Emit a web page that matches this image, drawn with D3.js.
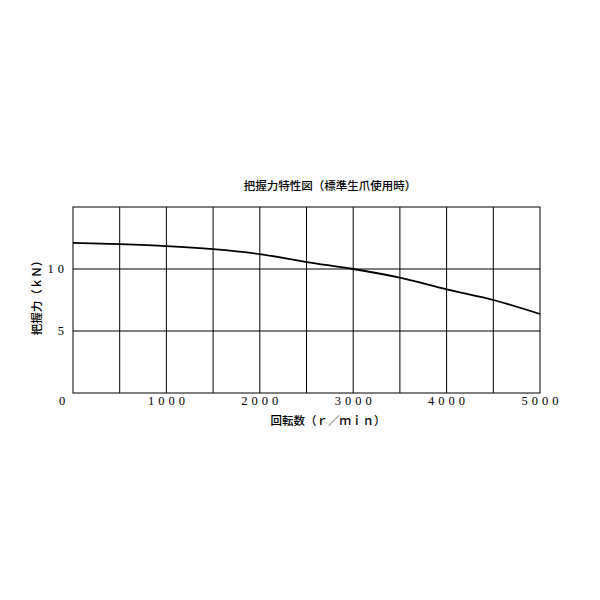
<!DOCTYPE html>
<html><head><meta charset="utf-8">
<script src="https://cdn.jsdelivr.net/npm/d3@7"></script>
<style>body{margin:0;background:#fff}</style>
</head><body><svg id="c" width="600" height="600"></svg>
<script>
const rpm = [0,500,1000,1500,2000,2500,3000,3500,4000,4500,5000];
const force = [12.1,12.0,11.85,11.6,11.2,10.56,10.0,9.3,8.36,7.5,6.37];
const xTicks = [1000,2000,3000,4000,5000];
const yTicks = [5,10];
const title = "把握力特性図（標準生爪使用時）";
const xTitle = "回転数（ｒ／ｍｉｎ）";
const yTitle = "把握力（ｋＮ）";

const svg = d3.select("#c");
const L=73,R=540,T=207,B=393;
const x = d3.scaleLinear().domain([0,5000]).range([L,R]);
const y = d3.scaleLinear().domain([0,15]).range([B,T]);
const g = svg.append("g");
g.selectAll(".vg").data(d3.range(500,5000,500)).join("line")
 .attr("x1",d=>x(d)).attr("x2",d=>x(d)).attr("y1",T).attr("y2",B)
 .attr("stroke","#000").attr("stroke-width",1);
g.selectAll(".hg").data(yTicks).join("line")
 .attr("x1",L).attr("x2",R).attr("y1",d=>y(d)).attr("y2",d=>y(d))
 .attr("stroke","#000").attr("stroke-width",1);
g.append("rect").attr("x",L).attr("y",T).attr("width",R-L).attr("height",B-T)
 .attr("fill","none").attr("stroke","#000").attr("stroke-width",1);
const line = d3.line().x((d,i)=>x(rpm[i])).y(d=>y(d)).curve(d3.curveMonotoneX);
g.append("path").attr("d",line(force)).attr("fill","none").attr("stroke","#000").attr("stroke-width",1.8);
const numFont = "'Liberation Serif', serif";
g.selectAll(".xt").data(xTicks).join("text")
 .attr("x",d=>x(d)+2).attr("y",405).attr("text-anchor","middle")
 .attr("font-family",numFont).attr("font-size",12.5).attr("letter-spacing","4px")
 .text(d=>String(d));
g.append("text").attr("x",62).attr("y",405).attr("text-anchor","middle")
 .attr("font-family",numFont).attr("font-size",12.5).text("0");
g.selectAll(".yt").data(yTicks).join("text")
 .attr("x",68).attr("y",d=>y(d)+4).attr("text-anchor","end")
 .attr("font-family",numFont).attr("font-size",12.5).attr("letter-spacing","4px")
 .text(d=>String(d));
const cjk = "'Noto Sans CJK JP', sans-serif";
svg.append("text").attr("x",330).attr("y",190).attr("text-anchor","middle")
 .attr("font-family",cjk).attr("font-size",11.5).attr("font-weight",500).text(title);
svg.append("text").attr("x",328).attr("y",425).attr("text-anchor","middle")
 .attr("font-family",cjk).attr("font-size",11.5).attr("font-weight",500).text(xTitle);
svg.append("text").attr("transform","translate(41,295) rotate(-90)").attr("text-anchor","middle")
 .attr("font-family",cjk).attr("font-size",11.5).attr("font-weight",500).text(yTitle);
</script></body></html>
